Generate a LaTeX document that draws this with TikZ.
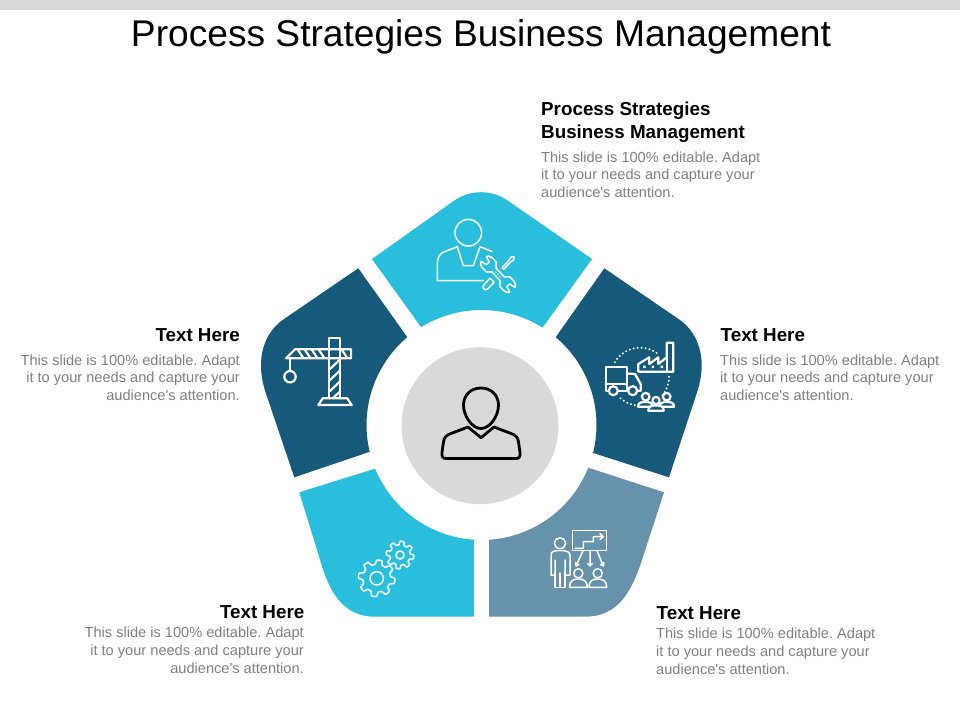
\documentclass[tikz,border=0pt]{standalone}
\usepackage{fontspec}
\setmainfont{Liberation Sans}
\newfontfamily\plainsans{Liberation Sans}
\frenchspacing
\definecolor{cy}{HTML}{29BFDC}
\definecolor{dk}{HTML}{17597A}
\definecolor{sl}{HTML}{6693AB}
\definecolor{gy}{HTML}{D9D9D9}
\definecolor{tx}{HTML}{7F7F7F}
\tikzset{
 bodyl/.style={inner sep=0,align=left,anchor=north west,text=tx,font=\plainsans\fontsize{14.6}{17.7}\selectfont},
 bodyr/.style={inner sep=0,align=right,anchor=north east,text=tx,font=\plainsans\fontsize{14.6}{17.7}\selectfont},
 headl/.style={inner sep=0,align=left,anchor=west,text=black,font=\fontsize{18.8}{23}\bfseries\selectfont},
 headr/.style={inner sep=0,align=right,anchor=east,text=black,font=\fontsize{18.8}{23}\bfseries\selectfont},
 ico/.style={draw=white,line width=1.5pt,line join=round,line cap=round},
 icob/.style={draw=white,line width=2.2pt,line join=round,line cap=round},
 dots/.style={draw=white,line width=2.2pt,line cap=round,dash pattern=on 0pt off 4pt},
 arcpts/.style={domain=#1,samples=30},
 gearpts/.style={domain=0:360,samples=193,smooth},
}
\begin{document}
\begin{tikzpicture}[x=1pt,y=-1pt]
\useasboundingbox (0,0) rectangle (960,720);
\fill[gy] (0,0) rectangle (960,10);
\node[inner sep=0,text=black,font=\fontsize{37.15}{40}\selectfont] (title) at (481,36.5) {Process Strategies Business Management};
% segments
\fill[cy] (372,259) -- (453.8,200.9) .. controls (470.1,189.3) and (491.9,189.3) .. (508.2,200.9) -- (592,259) -- (543,327) -- plot[arcpts=-57.9:-121.7] ({481.5+115*cos(\x)},{425+115*sin(\x)}) -- cycle;
\fill[dk] (604.3,268.3) -- (680,320) .. controls (695,331) and (702,348) .. (701.7,366.7) .. controls (701.5,376) and (699.5,385) .. (696.7,393.3) -- (669,477.3) -- (592.3,452.7) -- plot[arcpts=14:-49.8] ({481.5+115*cos(\x)},{425+115*sin(\x)}) -- cycle;
\fill[dk] (358.3,268.3) -- (282.6,320) .. controls (267.6,331) and (260.6,348) .. (261,366.7) .. controls (261.1,376) and (263.1,385) .. (265.9,393.3) -- (294.3,477.3) -- (370,451.7) -- plot[arcpts=166.5:229.8] ({481.5+115*cos(\x)},{425+115*sin(\x)}) -- cycle;
\fill[cy] (299.3,492.3) -- (321,563) .. controls (329,590) and (342,616.7) .. (375,616.7) -- (474,616.7) -- (474,539.3) -- plot[arcpts=93.8:157.7] ({481.5+115*cos(\x)},{425+115*sin(\x)}) -- cycle;
\fill[sl] (664,492.3) -- (643,556.7) .. controls (632,592) and (618,616.7) .. (585,616.7) -- (489,616.7) -- (489,539.3) -- plot[arcpts=86.2:21.8] ({481.5+115*cos(\x)},{425+115*sin(\x)}) -- cycle;
% centre
\fill[gy] (480,425.7) circle[radius=78.5];
\draw[black,line width=2.8pt,line join=round] (481,388) .. controls (470,388) and (463.5,396) .. (463.5,405) .. controls (463.5,416) and (472,428.5) .. (481,428.5) .. controls (490,428.5) and (498.5,416) .. (498.5,405) .. controls (498.5,396) and (492,388) .. (481,388) -- cycle;
\draw[black,line width=2.8pt,line join=round] (446,458.5) -- (516,458.5) .. controls (519.5,458.5) and (520.5,456) .. (520,452.5) -- (518.5,442) .. controls (518,437) and (515,435) .. (511,433.5) -- (494,427) -- (481,437.7) -- (468,427) -- (451,433.5) .. controls (447,435) and (444,437) .. (443.5,442) -- (442,452.5) .. controls (441.5,456) and (442.5,458.5) .. (446,458.5) -- cycle;
% icon: worker with tools
\draw[ico] (468.3,232.7) circle[radius=13.3];
\draw[ico] (483.5,280.7) -- (437.3,280.7) -- (437.3,264) .. controls (437.3,257) and (440,253) .. (445,251.5) -- (457.3,246.7) -- (463.3,265.7) -- (473.3,265.7) -- (480,246.7) -- (492,251.5);
\begin{scope}[shift={(497.5,274.3)},rotate=47]
\draw[ico] (-8,-2.8) -- (-17,-2.8) .. controls (-21,-2.8) and (-21,2.8) .. (-17,2.8) -- (-8,2.8) -- cycle;
\draw[ico] (8,-1.2) -- (18,-1.2) .. controls (21,-2.2) and (24,-2) .. (24,0) .. controls (24,2) and (21,2.2) .. (18,1.2) -- (8,1.2) -- cycle;
\end{scope}
\begin{scope}[shift={(498,274.3)},rotate=-47]
\draw[ico,fill=cy] (6,-2.8) -- (-6,-2.8) -- (-10,-7) -- (-16,-7) .. controls (-19,-7) and (-20.5,-5) .. (-21,-3.5) -- (-15,-2) -- (-15,2) -- (-21,3.5) .. controls (-20.5,5) and (-19,7) .. (-16,7) -- (-10,7) -- (-6,2.8) -- (6,2.8) -- (10,7) -- (16,7) .. controls (19,7) and (20.5,5) .. (21,3.5) -- (15,2) -- (15,-2) -- (21,-3.5) .. controls (20.5,-5) and (19,-7) .. (16,-7) -- (10,-7) -- cycle;
\fill[white] (-3,0) circle[radius=0.8] (0,0) circle[radius=0.8] (3,0) circle[radius=0.8];
\end{scope}
% icon: truck, factory, people
\draw[icob] (627.3,390.7) -- (605.7,390.7) -- (605.7,367.3) -- (627.3,367.3) -- (627.3,390.7);
\draw[icob] (605.7,384) -- (627.3,384);
\draw[icob] (627.3,373.5) -- (635,374) -- (640.7,384) -- (640.7,390.7) -- (638,390.7);
\draw[icob,fill=dk] (613.3,390.7) circle[radius=4.5];
\draw[icob,fill=dk] (632.7,390.7) circle[radius=4.5];
\draw[icob] (638.3,371.7) -- (638.3,364) -- (649.3,357.3) -- (649.3,364) -- (658.3,357.3) -- (658.3,364) -- (666.7,357.3) -- (666.7,342.7) -- (673.3,342.7) -- (673.3,371.7) -- cycle;
\draw[icob] (666.7,357.3) -- (666.7,371.7);
\fill[white] (643,365.5) rectangle +(2.5,2.5) (651.6,365.5) rectangle +(2.5,2.5) (660.6,365.5) rectangle +(2.5,2.5);
\draw[dots] plot[domain=-150:-52,samples=40] ({640+29*cos(\x)},{376.7+29*sin(\x)});
\draw[dots] plot[domain=0:42,samples=20] ({640+29*cos(\x)},{376.7+29*sin(\x)});
\draw[dots] plot[domain=132:92,samples=20] ({640+29*cos(\x)},{376.7+29*sin(\x)});
\draw[icob] (645.7,396.7) circle[radius=3.8] (666.7,396.7) circle[radius=3.8] (656,400.5) circle[radius=3.6];
\draw[icob,fill=dk] (638,406.7) .. controls (638,402.5) and (641,402) .. (645.7,402) .. controls (650,402) and (652,403) .. (653,406.7) -- cycle;
\draw[icob,fill=dk] (674,406.7) .. controls (674,402.5) and (671,402) .. (666.7,402) .. controls (662,402) and (660,403) .. (659,406.7) -- cycle;
\draw[icob,fill=dk] (648.3,410.7) .. controls (648.3,406.5) and (651,405.5) .. (656,405.5) .. controls (661,405.5) and (663.7,406.5) .. (663.7,410.7) -- cycle;
% icon: crane
\draw[icob] (329.3,398.3) -- (329.3,337.7) -- (340,337.7) -- (340,398.3);
\draw[icob] (286,358.3) -- (351,358.3) -- (351,349.3) -- (295,349.3) -- cycle;
\draw[icob] (298,350) -- (303,357.5) (305,350) -- (310,357.5) (312,350) -- (317,357.5) (319,350) -- (324,357.5) (342,350) -- (347,357.5);
\draw[icob] (330,369) -- (339.5,360) (330,380) -- (339.5,371) (330,391) -- (339.5,382) (333,398) -- (339.5,392);
\draw[icob] (290,358.3) -- (290,370);
\draw[icob] (290,376.7) circle[radius=5.7];
\draw[icob] (322.7,398.3) -- (318.3,405) -- (351.7,405) -- (347.3,398.3) -- cycle;
% icon: gears
\draw[ico] plot[gearpts] ({376.7+(16.1+2.2*min(1,max(-1,2.2*sin(8*\x+22))))*cos(\x)},{578.3+(16.1+2.2*min(1,max(-1,2.2*sin(8*\x+22))))*sin(\x)}) -- cycle;
\draw[ico] (376.7,578.3) circle[radius=6.7];
\draw[ico] plot[gearpts] ({400+(12+1.8*min(1,max(-1,2.2*sin(8*\x+22))))*cos(\x)},{555+(12+1.8*min(1,max(-1,2.2*sin(8*\x+22))))*sin(\x)}) -- cycle;
\draw[ico] (400,555) circle[radius=4];
% icon: presenter
\draw[ico] (572.7,530.7) rectangle (606.7,550.7);
\draw[ico] (575,548.3) -- (583.3,548.3) -- (583.3,541.7) -- (593.3,541.7) -- (593.3,536.7) -- (603.3,536.7) (600,533.5) -- (603.3,536.7) -- (600,539.7);
\draw[ico] (590,550.7) -- (590,566) (587.7,563.5) -- (590,566) -- (592.3,563.5);
\draw[ico] (583,550.7) -- (576,566) (575.5,562.5) -- (576,566) -- (579,564.5);
\draw[ico] (597,550.7) -- (603.3,566) (600.5,564.5) -- (603.3,566) -- (603.8,562.5);
\draw[ico] (560,543.3) circle[radius=5.6];
\draw[ico] (555,560) -- (555,575) -- (551,575) -- (551,556) .. controls (551,552) and (553,550.7) .. (556,550.7) -- (564,550.7) .. controls (567,550.7) and (570,552) .. (570,556) -- (570,575) -- (565,575) -- (565,560);
\draw[ico] (555,572) -- (555,587.3) -- (565,587.3) -- (565,572) (560,573) -- (560,587.3);
\draw[ico] (578.3,573.3) circle[radius=4.6] (597.7,573.3) circle[radius=4.6];
\draw[ico] (569.5,587.3) .. controls (569.5,581) and (573,579) .. (578.3,579) .. controls (583.5,579) and (587.3,581) .. (587.3,587.3) -- cycle;
\draw[ico] (589,587.3) .. controls (589,581) and (592.5,579) .. (597.7,579) .. controls (603,579) and (606.7,581) .. (606.7,587.3) -- cycle;
% text
\node[headl] (h1) at (541,122) {Process Strategies\\Business Management};
\node[bodyl] (b1) at (541,151.5) {This slide is 100\% editable. Adapt\\it to your needs and capture your\\audience's attention.};
\node[headl] (h2) at (720.5,335) {Text Here};
\node[bodyl] (b2) at (720,354.5) {This slide is 100\% editable. Adapt\\it to your needs and capture your\\audience's attention.};
\node[headr] (h3) at (240,335) {Text Here};
\node[bodyr] (b3) at (240,354.5) {This slide is 100\% editable. Adapt\\it to your needs and capture your\\audience's attention.};
\node[headr] (h4) at (304.5,612) {Text Here};
\node[bodyr] (b4) at (304,627) {This slide is 100\% editable. Adapt\\it to your needs and capture your\\audience's attention.};
\node[headl] (h5) at (656.5,613) {Text Here};
\node[bodyl] (b5) at (656,628) {This slide is 100\% editable. Adapt\\it to your needs and capture your\\audience's attention.};
\end{tikzpicture}
\end{document}
